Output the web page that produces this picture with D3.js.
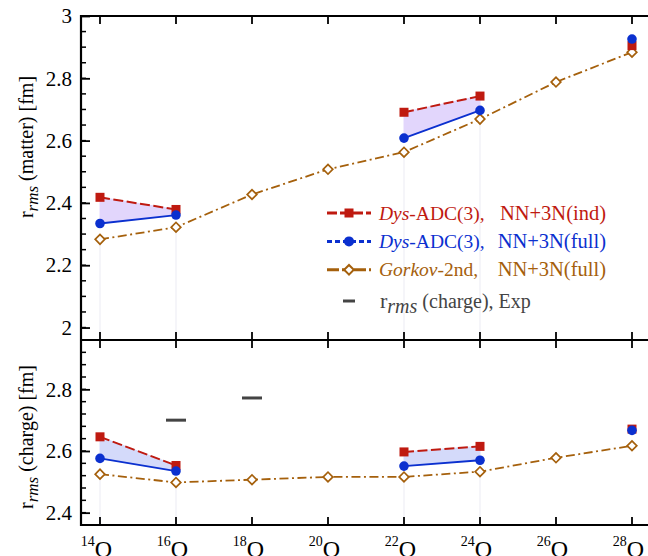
<!DOCTYPE html>
<html>
<head>
<meta charset="utf-8">
<script src="https://cdn.jsdelivr.net/npm/d3@7"></script>
<style>
  body { margin: 0; background: #fff; }
  svg { display: block; font-family: "Liberation Serif", "Times New Roman", serif; }
</style>
</head>
<body>
<svg id="chart" width="648" height="556"></svg>
<script>
// mass numbers of the oxygen isotopes
var isotopes = [14, 16, 18, 20, 22, 24, 26, 28];

// r_rms (matter) [fm]
var matterInd  = [2.418, 2.379, null, null, 2.691, 2.743, null, 2.905];
var matterFull = [2.334, 2.361, null, null, 2.608, 2.697, null, 2.926];
var matterGkv  = [2.283, 2.322, 2.427, 2.508, 2.563, 2.669, 2.788, 2.884];

// r_rms (charge) [fm]
var chargeInd  = [2.646, 2.553, null, null, 2.597, 2.615, null, 2.671];
var chargeFull = [2.576, 2.535, null, null, 2.551, 2.570, null, 2.667];
var chargeGkv  = [2.525, 2.498, 2.507, 2.516, 2.516, 2.533, 2.578, 2.617];
var chargeExp  = [null, 2.700, 2.772, null, null, null, null, null];

var topTicks = [2, 2.2, 2.4, 2.6, 2.8, 3];
var botTicks = [2.4, 2.6, 2.8];

var cRed = "#bf1a10", cBlue = "#0b30cf", cGkv = "#a5600c", cExp = "#444";
var serif = "Liberation Serif, Times New Roman, serif";

var svg = d3.select("#chart");

var x = d3.scaleLinear().domain([13.5, 28.5]).range([81, 651]);
var yTop = d3.scaleLinear().domain([1.96, 3.0]).range([340, 16]);
var yBot = d3.scaleLinear().domain([2.36, 2.96]).range([525, 340]);

function rows(vals) {
    return isotopes.map(function (a, i) { return { a: a, v: vals[i] }; });
}

function drawPanel(y, ind, full, gkv, fillColor, minorStep, clipId) {
    var g = svg.append("g");
    var r0 = y.range();

    g.append("clipPath").attr("id", clipId).append("rect")
        .attr("x", 81).attr("y", r0[1]).attr("width", 570).attr("height", r0[0] - r0[1]);
    var plot = g.append("g").attr("clip-path", "url(#" + clipId + ")");

    // faint drop lines under the ADC points
    isotopes.forEach(function (a, i) {
        if (ind[i] != null && full[i] != null && a != 28) {
            plot.append("line")
                .attr("x1", x(a)).attr("x2", x(a))
                .attr("y1", y(gkv[i])).attr("y2", r0[0])
                .style("stroke", "#ebebf3").style("stroke-width", 1);
        }
    });

    // band between ind and full
    var both = rows(ind).map(function (d, i) { return { a: d.a, hi: d.v, lo: full[i] }; });
    var area = d3.area()
        .defined(function (d) { return d.hi != null && d.lo != null; })
        .x(function (d) { return x(d.a); })
        .y0(function (d) { return y(d.lo); })
        .y1(function (d) { return y(d.hi); });
    plot.append("path").datum(both)
        .attr("d", area)
        .style("fill", fillColor).style("stroke", fillColor).style("stroke-width", 1);

    var line = d3.line()
        .defined(function (d) { return d.v != null; })
        .x(function (d) { return x(d.a); })
        .y(function (d) { return y(d.v); });

    // Gorkov
    plot.append("path").datum(rows(gkv)).attr("d", line)
        .style("fill", "none").style("stroke", cGkv).style("stroke-width", 1.8)
        .style("stroke-dasharray", "9,3.5,2,3.5");
    // ind
    plot.append("path").datum(rows(ind)).attr("d", line)
        .style("fill", "none").style("stroke", cRed).style("stroke-width", 2)
        .style("stroke-dasharray", "10,3.5");
    // full
    plot.append("path").datum(rows(full)).attr("d", line)
        .style("fill", "none").style("stroke", cBlue).style("stroke-width", 1.8);

    plot.selectAll(".dia").data(rows(gkv).filter(function (d) { return d.v != null; }))
        .enter().append("rect")
        .attr("x", -3.4).attr("y", -3.4).attr("width", 6.8).attr("height", 6.8)
        .attr("transform", function (d) { return "translate(" + x(d.a) + "," + y(d.v) + ") rotate(45)"; })
        .style("fill", "#fff").style("stroke", cGkv).style("stroke-width", 1.7);

    plot.selectAll(".sq").data(rows(ind).filter(function (d) { return d.v != null; }))
        .enter().append("rect")
        .attr("x", function (d) { return x(d.a) - 4.5; })
        .attr("y", function (d) { return y(d.v) - 4.5; })
        .attr("width", 9).attr("height", 9)
        .style("fill", cRed);

    plot.selectAll(".ci").data(rows(full).filter(function (d) { return d.v != null; }))
        .enter().append("circle")
        .attr("cx", function (d) { return x(d.a); })
        .attr("cy", function (d) { return y(d.v); })
        .attr("r", 4.8)
        .style("fill", cBlue);

    // minor y ticks, inward
    var ax = g.append("g").attr("transform", "translate(81,0)");
    var minors = d3.range(Math.ceil(y.domain()[0] / minorStep - 1e-6), Math.floor(y.domain()[1] / minorStep + 1e-6) + 1)
        .map(function (k) { return k * minorStep; });
    ax.selectAll(".minor").data(minors).enter().append("line")
        .attr("x1", 0).attr("x2", 5)
        .attr("y1", function (d) { return y(d); }).attr("y2", function (d) { return y(d); })
        .style("stroke", "#000").style("stroke-width", 1.5);

    // x ticks inward on top and bottom edges
    g.selectAll(".xt").data(isotopes).enter().append("line")
        .attr("x1", function (d) { return x(d); }).attr("x2", function (d) { return x(d); })
        .attr("y1", r0[1]).attr("y2", r0[1] + 8)
        .style("stroke", "#000").style("stroke-width", 1.8);
    g.selectAll(".xb").data(isotopes).enter().append("line")
        .attr("x1", function (d) { return x(d); }).attr("x2", function (d) { return x(d); })
        .attr("y1", r0[0]).attr("y2", r0[0] - 8)
        .style("stroke", "#000").style("stroke-width", 1.8);

    return g;
}

function majorAxis(y, ticks) {
    var ax = d3.axisLeft(y).tickValues(ticks).tickSize(-9).tickPadding(9)
        .tickFormat(function (d) { return d3.format("")(+d.toFixed(1)); });
    var g = svg.append("g").attr("transform", "translate(81,0)").call(ax)
        .attr("font-family", serif).attr("font-size", 21);
    g.select(".domain").remove();
    g.selectAll(".tick line").style("stroke", "#000").style("stroke-width", 1.8);
    g.selectAll(".tick text").style("fill", "#000");
    return g;
}

drawPanel(yTop, matterInd, matterFull, matterGkv, "#e2d6fc", 0.05, "clipTop");
var bot = drawPanel(yBot, chargeInd, chargeFull, chargeGkv, "#d4dafa", 0.04, "clipBot");

// experimental charge radii
rows(chargeExp).filter(function (d) { return d.v != null; }).forEach(function (d) {
    bot.append("line")
        .attr("x1", x(d.a) - 10).attr("x2", x(d.a) + 10)
        .attr("y1", yBot(d.v)).attr("y2", yBot(d.v))
        .style("stroke", cExp).style("stroke-width", 3);
});

majorAxis(yTop, topTicks);
majorAxis(yBot, botTicks);

// frame
var frame = svg.append("g").style("stroke", "#000").style("stroke-width", 2.2).style("fill", "none");
frame.append("line").attr("x1", 81).attr("x2", 651).attr("y1", 16).attr("y2", 16);
frame.append("line").attr("x1", 81).attr("x2", 651).attr("y1", 340).attr("y2", 340);
frame.append("line").attr("x1", 81).attr("x2", 651).attr("y1", 525).attr("y2", 525);
frame.append("line").attr("x1", 81).attr("x2", 81).attr("y1", 15).attr("y2", 526);

// isotope labels (cut by the bottom edge as in the original)
isotopes.forEach(function (a) {
    var t = svg.append("text")
        .attr("x", x(a) - 3.5).attr("y", 557)
        .attr("text-anchor", "middle");
    t.append("tspan").text(a).style("font-size", "14px").attr("dy", -11);
    t.append("tspan").text("O").style("font-size", "24px").attr("dy", 11);
});

// y labels
function yLabel(cy, word) {
    var t = svg.append("text")
        .attr("transform", "translate(33," + cy + ") rotate(-90)")
        .attr("text-anchor", "middle")
        .style("font-size", "20px").style("white-space", "pre");
    t.append("tspan").text("r");
    t.append("tspan").text("rms").style("font-style", "italic").style("font-size", "17px").attr("dy", 5);
    t.append("tspan").text(" (" + word + ") [fm]").attr("dy", -5);
}
yLabel(147, "matter");
yLabel(437, "charge");

// legend
var legRows = [
    { color: cRed, kind: "sq", dash: "10,3", pre: "Dys", rest: "-ADC(3),", tail: "NN+3N(ind)" },
    { color: cBlue, kind: "ci", dash: "5,3", pre: "Dys", rest: "-ADC(3),", tail: "NN+3N(full)" },
    { color: cGkv, kind: "dia", dash: "12,3,3,3,3,3", pre: "Gorkov", rest: "-2nd,", tail: "NN+3N(full)" }
];
var leg = svg.append("g");
legRows.forEach(function (r, i) {
    var ly = 213 + i * 28.4;
    leg.append("line").attr("x1", 327).attr("x2", 371).attr("y1", ly).attr("y2", ly)
        .style("stroke", r.color).style("stroke-width", 3).style("stroke-dasharray", r.dash);
    if (r.kind == "sq")
        leg.append("rect").attr("x", 344.5).attr("y", ly - 4.5).attr("width", 9).attr("height", 9).style("fill", r.color);
    else if (r.kind == "ci")
        leg.append("circle").attr("cx", 349).attr("cy", ly).attr("r", 5).style("fill", r.color);
    else
        leg.append("rect").attr("x", -3.4).attr("y", -3.4).attr("width", 6.8).attr("height", 6.8)
            .attr("transform", "translate(349," + ly + ") rotate(45)")
            .style("fill", "#fff").style("stroke", r.color).style("stroke-width", 2);
    var t = leg.append("text").attr("x", 379).attr("y", ly + 6.5)
        .style("font-size", "19.5px").style("fill", r.color);
    t.append("tspan").text(r.pre).style("font-style", "italic");
    t.append("tspan").text(r.rest);
    leg.append("text").attr("x", 606).attr("y", ly + 6.5).attr("text-anchor", "end")
        .style("font-size", "20.5px").style("fill", r.color).text(r.tail);
});
leg.append("line").attr("x1", 343).attr("x2", 355).attr("y1", 301).attr("y2", 301)
    .style("stroke", cExp).style("stroke-width", 3);
var et = leg.append("text").attr("x", 380).attr("y", 308)
    .style("font-size", "22px").style("fill", cExp).style("white-space", "pre");
et.append("tspan").text("r");
et.append("tspan").text("rms").style("font-style", "italic").style("font-size", "20px").attr("dy", 5);
et.append("tspan").text(" (charge), Exp").style("font-size", "20px").attr("dy", -5);
</script>
</body>
</html>
